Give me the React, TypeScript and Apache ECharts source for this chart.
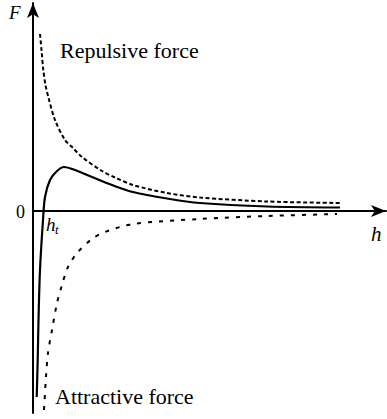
import React, { useEffect, useRef } from "react";
import * as echarts from "echarts";

// Separation h (arbitrary units) and force F (arbitrary units)
const repulsiveH = [0.7, 0.85, 1.03, 1.25, 1.53, 2.2, 3.2, 4.0, 4.9, 6.9, 8.2, 10.0, 13.4, 16.7, 23.4, 30.7];
const repulsiveF = [17.7, 16.1, 14.1, 12.6, 11.4, 9.1, 7.1, 6.3, 5.4, 4.0, 3.35, 2.6, 1.8, 1.35, 0.95, 0.8];

const netH = [0.37, 0.47, 0.55, 0.7, 1.0, 1.2, 1.7, 2.4, 3.1, 4.2, 5.9, 7.9, 10.0, 13.4, 16.7, 23.4, 30.7];
const netF = [-18.6, -14.9, -10.9, -5.9, -0.9, 1.4, 3.1, 4.0, 4.4, 4.1, 3.4, 2.6, 1.9, 1.25, 0.8, 0.45, 0.35];

const attractiveH = [1.1, 1.3, 1.5, 1.9, 2.4, 2.9, 3.5, 4.4, 5.9, 7.2, 10.0, 16.7, 23.4, 30.4];
const attractiveF = [-19.9, -16.6, -14.2, -11.9, -9.2, -7.4, -5.6, -4.2, -2.8, -2.1, -1.3, -0.8, -0.5, -0.3];

const labels = {
  yName: "F",
  xName: "h",
  zero: "0",
  repulsive: "Repulsive force",
  attractive: "Attractive force",
};

const pairs = (xs: number[], ys: number[]) => xs.map((x, i) => [x, ys[i]]);

const serif = "Liberation Serif";

const textStyle = (text: string, size: number, italic = false, align = "left") => ({
  text,
  fontFamily: serif,
  fontSize: size,
  fontStyle: italic ? "italic" : "normal",
  fill: "#000",
  textAlign: align,
  textVerticalAlign: "middle",
});

export default function App() {
  const ref = useRef<HTMLDivElement>(null);

  useEffect(() => {
    if (!ref.current) return;
    const chart = echarts.init(ref.current, null, { renderer: "svg" });
    const axisLine = {
      show: true,
      onZero: true,
      symbol: ["none", "arrow"],
      symbolSize: [9, 15],
      lineStyle: { color: "#000", width: 2 },
    };
    chart.setOption({
      animation: false,
      backgroundColor: "#fff",
      grid: { left: 33, right: 1, top: 3, bottom: 6 },
      xAxis: {
        type: "value",
        min: 0,
        max: 35.3,
        axisLine,
        axisTick: { show: false },
        axisLabel: { show: false },
        splitLine: { show: false },
      },
      yAxis: {
        type: "value",
        min: -20.2,
        max: 20.8,
        axisLine,
        axisTick: { show: false },
        axisLabel: { show: false },
        splitLine: { show: false },
      },
      series: [
        {
          name: "Repulsive",
          type: "line",
          data: pairs(repulsiveH, repulsiveF),
          showSymbol: false,
          smooth: 0.3,
          lineStyle: { color: "#000", width: 2, type: [4, 2.5] },
        },
        {
          name: "Net",
          type: "line",
          data: pairs(netH, netF),
          showSymbol: false,
          smooth: 0.3,
          lineStyle: { color: "#000", width: 2.2 },
        },
        {
          name: "Attractive",
          type: "line",
          data: pairs(attractiveH, attractiveF),
          showSymbol: false,
          smooth: 0.3,
          lineStyle: { color: "#000", width: 2, type: [4, 7] },
        },
      ],
      graphic: [
        { type: "text", x: 9, y: 12, style: textStyle(labels.yName, 19, true) },
        { type: "text", x: 25, y: 212, style: textStyle(labels.zero, 18, false, "right") },
        { type: "text", x: 371, y: 234, style: textStyle(labels.xName, 21, true) },
        { type: "text", x: 46, y: 224, style: textStyle("h", 19, true) },
        { type: "text", x: 55, y: 229, style: textStyle("t", 13, true) },
        { type: "text", x: 60, y: 50, style: textStyle(labels.repulsive, 22) },
        { type: "text", x: 55, y: 396, style: textStyle(labels.attractive, 22) },
      ],
    });
    return () => chart.dispose();
  }, []);

  return <div ref={ref} style={{ width: 387, height: 419, position: "fixed", left: 0, top: 0 }} />;
}
